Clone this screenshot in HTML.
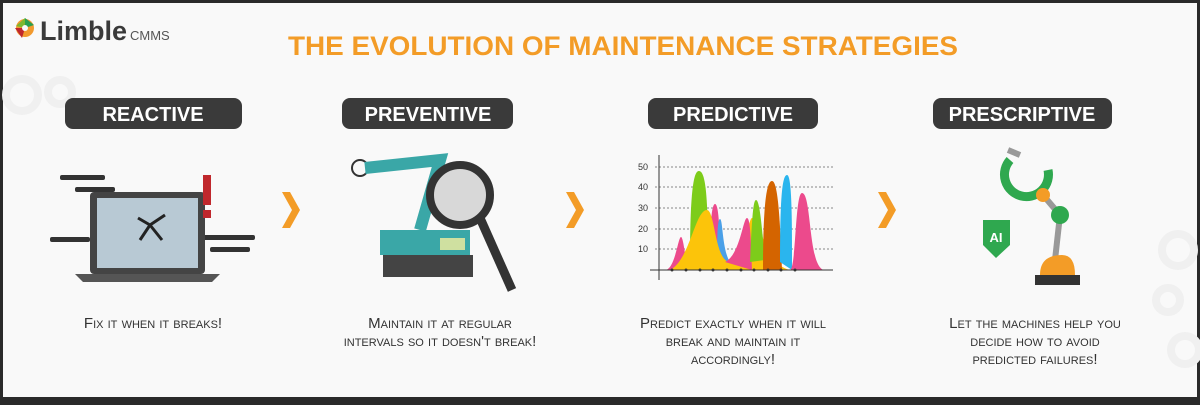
<!DOCTYPE html>
<html><head><meta charset="utf-8"><style>
body{margin:0;width:1200px;height:400px;overflow:hidden;background:#2a2a2a;font-family:"Liberation Sans",sans-serif}
</style></head><body>
<svg width="1200" height="400" viewBox="0 0 1200 400" xmlns="http://www.w3.org/2000/svg" font-family="Liberation Sans, sans-serif">
<rect x="3" y="3" width="1194" height="394" fill="#f9f9f9"/>
<g fill="none" stroke="#f0f0f0" stroke-width="8">
<circle cx="22" cy="95" r="16"/><circle cx="60" cy="92" r="12"/>
<circle cx="1178" cy="250" r="16"/><circle cx="1168" cy="300" r="12"/><circle cx="1185" cy="350" r="14"/>
</g>
<g transform="translate(25,28)">
<circle cx="0" cy="0" r="9" fill="#f29a2e"/><path d="M-9,-2 L0,-10 L0,0Z" fill="#7cb82f"/><path d="M-10,0 L-3,10 L0,0Z" fill="#c0282d"/><path d="M0,-10 L9,-3 L0,0Z" fill="#2a9f4f"/><circle cx="0" cy="0" r="3" fill="#f9f9f9"/>
</g>
<text x="40" y="40" font-size="27" font-weight="bold" fill="#3a3a3a">Limble</text>
<text x="130" y="40" font-size="13" fill="#555">CMMS</text>
<text x="623" y="55" font-size="27" font-weight="bold" fill="#f39c27" text-anchor="middle" textLength="670" lengthAdjust="spacingAndGlyphs">THE EVOLUTION OF MAINTENANCE STRATEGIES</text>
<g font-size="20" font-weight="bold" fill="#fff" text-anchor="middle">
<rect x="65" y="98" width="177" height="31" rx="8" fill="#3a3a3a"/><text x="153" y="121">REACTIVE</text>
<rect x="342" y="98" width="171" height="31" rx="8" fill="#3a3a3a"/><text x="428" y="121">PREVENTIVE</text>
<rect x="648" y="98" width="170" height="31" rx="8" fill="#3a3a3a"/><text x="733" y="121">PREDICTIVE</text>
<rect x="933" y="98" width="179" height="31" rx="8" fill="#3a3a3a"/><text x="1022" y="121">PRESCRIPTIVE</text>
</g>
<g fill="#f39c27">
<path d="M282,192 L290,192 L300,210 L290,228 L282,228 L292,210Z"/>
<path d="M566,192 L574,192 L584,210 L574,228 L566,228 L576,210Z"/>
<path d="M878,192 L886,192 L896,210 L886,228 L878,228 L888,210Z"/>
</g>
<g>
<rect x="60" y="175" width="45" height="5" rx="2" fill="#333"/><rect x="75" y="187" width="40" height="5" rx="2" fill="#333"/><rect x="50" y="237" width="40" height="5" rx="2" fill="#333"/>
<rect x="195" y="235" width="60" height="5" rx="2" fill="#333"/><rect x="210" y="247" width="40" height="5" rx="2" fill="#333"/>
<rect x="90" y="192" width="115" height="82" rx="4" fill="#444"/>
<rect x="97" y="198" width="101" height="70" fill="#b8c9d4"/>
<path d="M75,274 L220,274 L212,282 L83,282Z" fill="#555"/>
<path d="M150,225 L140,240 M150,225 L165,215 M150,225 L162,240 M150,225 L138,218" stroke="#222" stroke-width="3"/>
<rect x="203" y="175" width="8" height="30" fill="#c0282d"/><rect x="203" y="210" width="8" height="8" fill="#c0282d"/>
</g>
<g>
<circle cx="360" cy="168" r="8" fill="none" stroke="#333" stroke-width="2"/>
<path d="M365,168 L440,160 L420,230" stroke="#3aa7a7" stroke-width="12" fill="none"/>
<rect x="380" y="230" width="90" height="25" fill="#3aa7a7"/>
<rect x="383" y="255" width="90" height="22" fill="#444"/>
<rect x="440" y="238" width="25" height="12" fill="#cfe0a0"/>
<circle cx="460" cy="195" r="30" fill="#d8d8d8" stroke="#333" stroke-width="8"/>
<line x1="480" y1="218" x2="512" y2="290" stroke="#333" stroke-width="9"/>
</g>
<g>
<g stroke="#888" stroke-dasharray="2,2"><line x1="655" y1="167" x2="833" y2="167"/><line x1="655" y1="187" x2="833" y2="187"/><line x1="655" y1="208" x2="833" y2="208"/><line x1="655" y1="229" x2="833" y2="229"/><line x1="655" y1="249" x2="833" y2="249"/></g>
<g font-size="9" fill="#333" text-anchor="end"><text x="648" y="170">50</text><text x="648" y="190">40</text><text x="648" y="211">30</text><text x="648" y="232">20</text><text x="648" y="252">10</text></g>
<path d="M665,270 C675,270 678,237 681,237 C684,237 686,270 690,270Z" fill="#ec4a8c"/>
<path d="M690,260 C690,180 695,171 699,171 C706,171 708,200 708,260Z" fill="#7dcc1a"/>
<path d="M710,260 C710,220 712,204 715,204 C718,204 720,220 720,270Z" fill="#ec4a8c"/>
<path d="M717,262 C717,230 718,219 720,219 C723,219 722,250 730,262Z" fill="#4aa0e8"/>
<path d="M670,270 C690,260 695,210 707,210 C715,210 715,262 730,262 C745,262 748,218 752,218 C760,218 765,265 790,270Z" fill="#fcc40a"/>
<path d="M725,262 C740,255 743,218 747,218 C751,218 751,250 752,270Z" fill="#ec4a8c"/>
<path d="M750,262 C752,220 753,200 756,200 C760,200 762,230 765,260Z" fill="#7dcc1a"/>
<path d="M763,270 C763,200 767,181 772,181 C778,181 780,220 782,270Z" fill="#d46400"/>
<path d="M780,262 C780,200 782,175 787,175 C792,175 792,220 792,270Z" fill="#2ab5ee"/>
<path d="M790,270 C796,270 795,193 802,193 C812,193 808,270 825,270Z" fill="#ec4a8c"/>
<line x1="659" y1="155" x2="659" y2="280" stroke="#333"/>
<line x1="650" y1="270" x2="833" y2="270" stroke="#333"/>
<g fill="#333"><circle cx="672" cy="270" r="1.5"/><circle cx="686" cy="270" r="1.5"/><circle cx="700" cy="270" r="1.5"/><circle cx="713" cy="270" r="1.5"/><circle cx="727" cy="270" r="1.5"/><circle cx="741" cy="270" r="1.5"/><circle cx="754" cy="270" r="1.5"/><circle cx="768" cy="270" r="1.5"/><circle cx="781" cy="270" r="1.5"/><circle cx="795" cy="270" r="1.5"/></g>
</g>
<g>
<path d="M983,220 L1010,220 L1010,245 L996,258 L983,245Z" fill="#2fa84f"/>
<text x="996" y="242" font-size="13" font-weight="bold" fill="#fff" text-anchor="middle">AI</text>
<path d="M1010,160 A22,22 0 1,0 1048,170" stroke="#2fa84f" stroke-width="9" fill="none"/>
<path d="M1008,150 L1020,155" stroke="#999" stroke-width="6"/>
<line x1="1043" y1="195" x2="1060" y2="215" stroke="#999" stroke-width="6"/>
<line x1="1060" y1="215" x2="1055" y2="260" stroke="#999" stroke-width="6"/>
<circle cx="1043" cy="195" r="7" fill="#f39c27"/><circle cx="1060" cy="215" r="9" fill="#2fa84f"/>
<path d="M1040,275 Q1040,255 1062,255 Q1075,255 1075,275Z" fill="#f39c27"/>
<rect x="1035" y="275" width="45" height="10" fill="#333"/>
</g>
<g font-size="15" fill="#333" text-anchor="middle" style="font-variant:small-caps">
<text x="153" y="328">Fix it when it breaks!</text>
<text x="440" y="328">Maintain it at regular</text><text x="440" y="346">intervals so it doesn't break!</text>
<text x="733" y="328">Predict exactly when it will</text><text x="733" y="346">break and maintain it</text><text x="733" y="364">accordingly!</text>
<text x="1035" y="328">Let the machines help you</text><text x="1035" y="346">decide how to avoid</text><text x="1035" y="364">predicted failures!</text>
</g>
</svg>
</body></html>
